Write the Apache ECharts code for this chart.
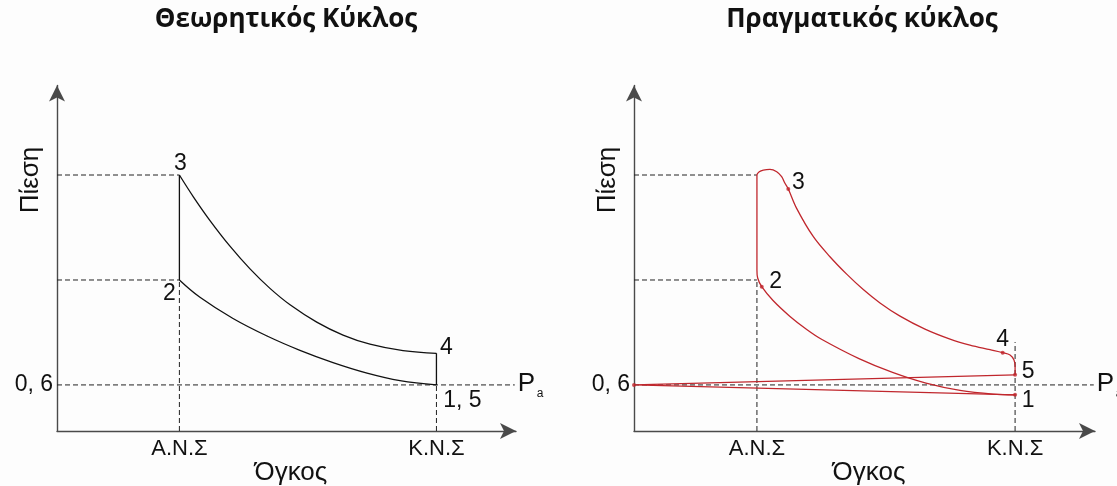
<!DOCTYPE html>
<html><head><meta charset="utf-8">
<script src="https://cdn.jsdelivr.net/npm/echarts@6/dist/echarts.min.js"></script>
<style>html,body{margin:0;padding:0;background:#fdfdfd}#c{width:1117px;height:486px}</style>
</head><body><div id="c"></div>
<script>
// ---------- data ----------
const titles = ['Θεωρητικός Κύκλος', 'Πραγματικός κύκλος'];
const volumeTicks = [1, 3.1];
const volumeTickLabels = ['Α.Ν.Σ', 'Κ.Ν.Σ'];
const pressureTicks = [1];
const pressureTickLabels = ['0, 6'];
const volumeAxisName = 'Όγκος';
const pressureAxisName = 'Πίεση';
const volumeMax = 3.75;
const pressureMax = 7.5;
const vTDC = 1.0;      // Α.Ν.Σ
const vBDC = 3.1;      // Κ.Ν.Σ
const pAtm = 1.0;      // Pa
const p2Level = 3.278;
const p3Level = 5.557;
const paLineEnd = 3.74;

// theoretical cycle
const theoCompression = [[3.1,1.0],[2.802,1.094],[2.533,1.257],[2.255,1.485],[1.985,1.751],[1.716,2.062],[1.438,2.442],[1.168,2.902],[1.0,3.278]];
const theoCombustion = [[1.0,3.278],[1.0,5.557]];
const theoExpansion = [[1.0,5.557],[1.114,5.084],[1.25,4.568],[1.413,4.012],[1.577,3.519],[1.74,3.096],[1.904,2.74],[2.122,2.364],[2.337,2.082],[2.557,1.884],[2.827,1.743],[3.1,1.687]];
const theoBlowdown = [[3.1,1.687],[3.1,1.0]];
const theoLabelNames = ['3', '2', '4', '1, 5'];
const theoLabelPoints = [[1.0,5.557],[1.0,3.278],[3.1,1.687],[3.1,1.0]];
const theoBdcDashTop = 1.0;

// real cycle
const realCycle = [[3.1,0.786],[2.92,0.802],[2.652,0.882],[2.375,1.04],[2.103,1.272],[1.83,1.571],[1.529,1.986],[1.405,2.204],[1.269,2.488],[1.131,2.833],[1.039,3.132],[1.006,3.321],[1.0,3.495],[1.0,5.557],[1.019,5.628],[1.052,5.665],[1.106,5.68],[1.161,5.628],[1.201,5.52],[1.228,5.377],[1.255,5.253],[1.324,4.828],[1.459,4.217],[1.594,3.783],[1.73,3.405],[1.865,3.071],[2.001,2.78],[2.164,2.493],[2.367,2.211],[2.571,1.994],[2.733,1.864],[2.896,1.764],[2.999,1.70],[3.059,1.65],[3.091,1.541],[3.1,1.396],[3.1,1.22]];
const realExchange = [[3.1,1.22],[0,1.0],[3.1,0.786]];
const realDots = [[0,1.0],[1.039,3.132],[1.255,5.253],[2.999,1.70],[3.1,1.22],[3.1,0.786]];
const realLabelNames = ['3', '2', '4', '5', '1'];
const realLabelPoints = [[1.255,5.253],[1.039,3.132],[2.999,1.70],[3.1,1.22],[3.1,0.786]];
const realBdcDashTop = 1.93;

// ---------- layout / style ----------
const RED = '#c0272d';
const INK = '#111';
const AXIS = '#4a4a4a';
const FONT = '"Liberation Sans", Arial, sans-serif';
const grids = [
  {left: 57, top: 85.5, width: 459, height: 345.5},
  {left: 634, top: 85.5, width: 461, height: 345.5}
];
function axisX(i) {
  return {
    type: 'value', gridIndex: i, min: 0, max: volumeMax,
    axisLine: {show: true, symbol: ['none', 'arrow'], symbolSize: [12, 16], lineStyle: {color: AXIS, width: 1.4}},
    axisTick: {show: false}, splitLine: {show: false},
    axisLabel: {customValues: volumeTicks, margin: 7, color: INK, fontSize: 22, fontFamily: FONT,
      formatter: v => { const k = volumeTicks.findIndex(t => Math.abs(t - v) < 1e-6); return k >= 0 ? volumeTickLabels[k] : ''; }}
  };
}
function axisY(i) {
  return {
    type: 'value', gridIndex: i, min: 0, max: pressureMax,
    axisLine: {show: true, symbol: ['none', 'arrow'], symbolSize: [12, 16], lineStyle: {color: AXIS, width: 1.4}},
    axisTick: {show: false}, splitLine: {show: false},
    axisLabel: {customValues: pressureTicks, margin: 4, color: INK, fontSize: 23, fontFamily: FONT,
      formatter: v => { const k = pressureTicks.findIndex(t => Math.abs(t - v) < 1e-6); return k >= 0 ? pressureTickLabels[k] : ''; }}
  };
}
function line(i, data, color, smooth, dashed, width) {
  return {type: 'line', xAxisIndex: i, yAxisIndex: i, data: data, smooth: smooth, symbol: 'none',
    silent: true, animation: false, z: dashed ? 2 : 3,
    lineStyle: {color: color, width: width || (dashed ? 1 : 1.3), type: dashed ? [5, 3] : 'solid'}};
}
function guideLines(i, bdcTop) {
  return [
    line(i, [[0, p3Level], [vTDC, p3Level]], '#222', false, true),
    line(i, [[0, p2Level], [vTDC, p2Level]], '#222', false, true),
    line(i, [[0, pAtm], [paLineEnd, pAtm]], '#222', false, true),
    line(i, [[vTDC, 0], [vTDC, p2Level]], '#222', false, true),
    line(i, [[vBDC, 0], [vBDC, bdcTop]], '#222', false, true)
  ];
}
const series = [].concat(
  guideLines(0, theoBdcDashTop),
  guideLines(1, realBdcDashTop),
  [
    line(0, theoCompression, '#111', 0.4),
    line(0, theoCombustion, '#111', false),
    line(0, theoExpansion, '#111', 0.4),
    line(0, theoBlowdown, '#111', false),
    line(1, realCycle, RED, 0.35),
    line(1, realExchange, RED, false),
    {type: 'scatter', xAxisIndex: 1, yAxisIndex: 1, data: realDots, symbolSize: 4, z: 5,
      itemStyle: {color: RED}, silent: true, animation: false}
  ]
);

const chart = echarts.init(document.getElementById('c'), null, {renderer: 'canvas'});
chart.setOption({
  backgroundColor: '#fdfdfd',
  animation: false,
  title: [
    {text: titles[0], left: 281, top: 2, textAlign: 'center', textStyle: {fontFamily: '"Open Sans", sans-serif', fontWeight: 'bold', fontSize: 26, color: INK}},
    {text: titles[1], left: 857, top: 2, textAlign: 'center', textStyle: {fontFamily: '"Open Sans", sans-serif', fontWeight: 'bold', fontSize: 26, color: INK}}
  ],
  grid: grids,
  xAxis: [axisX(0), axisX(1)],
  yAxis: [axisY(0), axisY(1)],
  series: series
});

// text annotations anchored to data points
const theoOffsets = [[1, -11], [-10, 14], [10, -6], [26, 16]];
const realOffsets = [[10, -6], [14, -5], [0, -13], [13, -3], [13, 6]];
const graphics = [];
function txt(x, y, text, size, align, extra) {
  graphics.push(Object.assign({type: 'text', x: x, y: y, silent: true,
    style: {text: text, fontSize: size, fontFamily: FONT, fill: INK, align: align || 'center', verticalAlign: 'middle'}}, extra || {}));
}
function px(i, pt) { return chart.convertToPixel({xAxisIndex: i, yAxisIndex: i}, pt); }
theoLabelNames.forEach((n, k) => { const p = px(0, theoLabelPoints[k]); txt(p[0] + theoOffsets[k][0], p[1] + theoOffsets[k][1], n, 23); });
realLabelNames.forEach((n, k) => { const p = px(1, realLabelPoints[k]); txt(p[0] + realOffsets[k][0], p[1] + realOffsets[k][1], n, 23); });
[0, 1].forEach(i => {
  const pa = px(i, [paLineEnd, pAtm]);
  txt(pa[0] + 3, pa[1] - 1, 'P', 26, 'left');
  txt(pa[0] + 22, pa[1] + 9, 'a', 12, 'left');
  const o = px(i, [0, 0]);
  const mid = px(i, [(vTDC + vBDC) / 2, 0]);
  txt(o[0] - 26, 180, pressureAxisName, 26, 'center', {rotation: Math.PI / 2});
  txt(mid[0] - 17, 473, volumeAxisName, 26, 'center');
});
chart.setOption({graphic: graphics});
</script></body></html>
